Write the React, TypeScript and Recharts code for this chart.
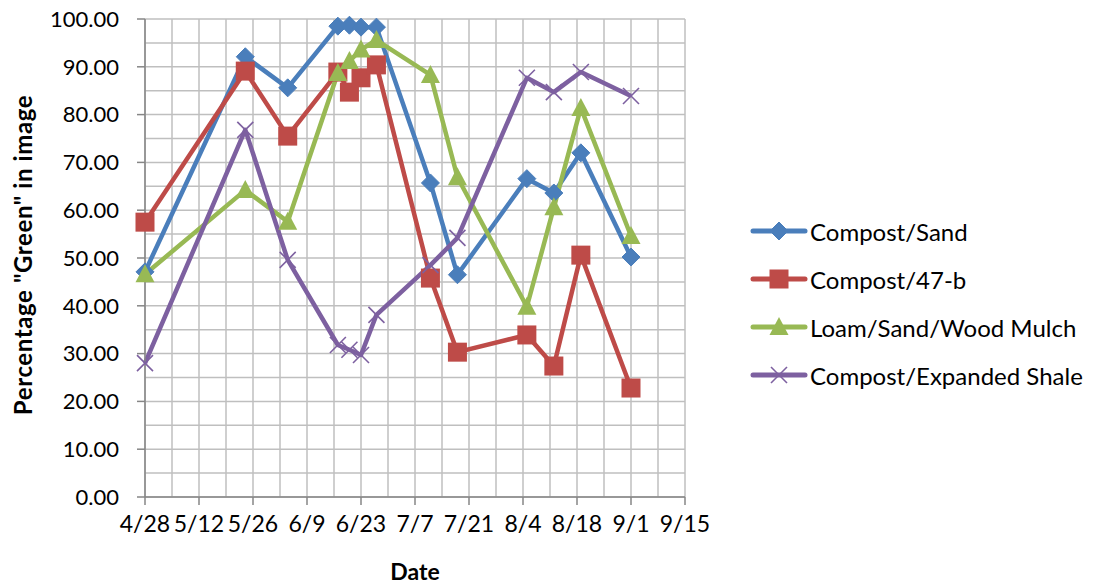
import { LineChart, Line, XAxis, YAxis, CartesianGrid } from "recharts";

// ─── Data ────────────────────────────────────────────────────────────────────
// x values are days counted from 4/28
const sampleDays = [0, 26, 37, 50, 53, 56, 60, 74, 81, 99, 106, 113, 126];

const compostSand = [47.1, 92.1, 85.6, 98.5, 98.7, 98.3, 98.3, 65.7, 46.5, 66.6, 63.6, 72.0, 50.2];
const compost47b = [57.5, 89.1, 75.5, 88.9, 84.7, 87.7, 90.4, 45.8, 30.3, 33.9, 27.4, 50.6, 22.8];
const loamSandMulch = [46.6, 64.2, 57.6, 88.7, 91.2, 93.6, 95.6, 88.3, 66.9, 39.8, 60.6, 81.4, 54.6];
const compostShale = [28.0, 76.8, 49.6, 31.8, 30.8, 29.7, 38.1, 48.5, 54.2, 87.7, 84.7, 88.9, 83.9];

const xTicks = [0, 14, 28, 42, 56, 70, 84, 98, 112, 126, 140];
const xTickLabels = ["4/28", "5/12", "5/26", "6/9", "6/23", "7/7", "7/21", "8/4", "8/18", "9/1", "9/15"];
const xMinor = [0, 7, 14, 21, 28, 35, 42, 49, 56, 63, 70, 77, 84, 91, 98, 105, 112, 119, 126, 133, 140];

const yTicks = [0, 10, 20, 30, 40, 50, 60, 70, 80, 90, 100];
const yMinor = [0, 5, 10, 15, 20, 25, 30, 35, 40, 45, 50, 55, 60, 65, 70, 75, 80, 85, 90, 95, 100];

const data = sampleDays.map((day, i) => ({
  day,
  compostSand: compostSand[i],
  compost47b: compost47b[i],
  loamSandMulch: loamSandMulch[i],
  compostShale: compostShale[i],
}));

const FONT = "Lato, 'Open Sans', sans-serif";

// ─── Markers ─────────────────────────────────────────────────────────────────
type DotProps = { cx?: number; cy?: number; index?: number };

const Diamond = ({ cx, cy, fill }: DotProps & { fill: string }) => {
  if (cx == null || cy == null) return null;
  const r = 9;
  return (
    <polygon
      points={`${cx},${cy - r} ${cx + r},${cy} ${cx},${cy + r} ${cx - r},${cy}`}
      fill={fill}
      stroke={fill}
      strokeWidth={1}
    />
  );
};

const Square = ({ cx, cy, fill }: DotProps & { fill: string }) => {
  if (cx == null || cy == null) return null;
  const h = 9.5;
  return <rect x={cx - h} y={cy - h} width={h * 2} height={h * 2} fill={fill} />;
};

const Triangle = ({ cx, cy, fill }: DotProps & { fill: string }) => {
  if (cx == null || cy == null) return null;
  const w = 9.5;
  return (
    <polygon
      points={`${cx},${cy - 10} ${cx + w},${cy + 8} ${cx - w},${cy + 8}`}
      fill={fill}
    />
  );
};

const Cross = ({ cx, cy, fill }: DotProps & { fill: string }) => {
  if (cx == null || cy == null) return null;
  const r = 8;
  return (
    <g stroke={fill} strokeWidth={1.6}>
      <line x1={cx - r} y1={cy - r} x2={cx + r} y2={cy + r} />
      <line x1={cx - r} y1={cy + r} x2={cx + r} y2={cy - r} />
    </g>
  );
};

const series = [
  { key: "compostSand", name: "Compost/Sand", color: "#4A7EBB", Marker: Diamond },
  { key: "compost47b", name: "Compost/47-b", color: "#BE4B48", Marker: Square },
  { key: "loamSandMulch", name: "Loam/Sand/Wood Mulch", color: "#98B954", Marker: Triangle },
  { key: "compostShale", name: "Compost/Expanded Shale", color: "#7D60A0", Marker: Cross },
];

// ─── Grid generators (minor grid every 7 days / 5 %) ────────────────────────
const vGen = (props: any) => {
  const s = props?.xAxis?.scale;
  const o = props.offset;
  return xMinor.map((d) => (typeof s === "function" ? s(d) : o.left + (d / 140) * o.width));
};
const hGen = (props: any) => {
  const s = props?.yAxis?.scale;
  const o = props.offset;
  return yMinor.map((v) => (typeof s === "function" ? s(v) : o.top + o.height - (v / 100) * o.height));
};

const YTitle = (props: any) => {
  const vb = props.viewBox || {};
  const x = 26;
  const y = vb.y + vb.height / 2 - 3;
  return (
    <text
      x={x}
      y={y}
      transform={`rotate(-90, ${x}, ${y})`}
      textAnchor="middle"
      dominantBaseline="middle"
      fontFamily={FONT}
      fontWeight="bold"
      fontSize={24}
      letterSpacing={0.6}
      fill="#000"
    >
      Percentage "Green" in image
    </text>
  );
};

export default function App() {
  return (
    <div
      style={{
        position: "absolute",
        left: 0,
        top: 0,
        width: 1097,
        height: 588,
        background: "#fff",
        fontFamily: FONT,
      }}
    >
      <LineChart
        width={1097}
        height={588}
        data={data}
        margin={{ top: 19, right: 412, left: 0, bottom: 0 }}
      >
        <CartesianGrid
          stroke="#BFBFBF"
          strokeWidth={1.5}
          verticalCoordinatesGenerator={vGen}
          horizontalCoordinatesGenerator={hGen}
        />
        <XAxis
          dataKey="day"
          type="number"
          domain={[0, 140]}
          ticks={xTicks}
          interval={0}
          tickFormatter={(v: number) => xTickLabels[xTicks.indexOf(v)] ?? ""}
          height={91}
          stroke="#868686"
          strokeWidth={1.5}
          tickSize={8}
          tickMargin={11}
          tick={{ fontSize: 23, fill: "#000", fontFamily: FONT }}
          label={{
            value: "Date",
            position: "insideBottom",
            offset: 8,
            fontSize: 23,
            fontWeight: "bold",
            fill: "#000",
            fontFamily: FONT,
          }}
        />
        <YAxis
          type="number"
          domain={[0, 100]}
          ticks={yTicks}
          interval={0}
          width={145}
          stroke="#868686"
          strokeWidth={1.5}
          tickSize={8}
          tickMargin={18}
          tickFormatter={(v: number) => v.toFixed(2)}
          tick={{ fontSize: 22, fill: "#000", fontFamily: FONT }}
          label={<YTitle />}
        />
        {series.map(({ key, name, color, Marker }) => (
          <Line
            key={key}
            type="linear"
            dataKey={key}
            name={name}
            stroke={color}
            strokeWidth={4.5}
            strokeLinejoin="round"
            dot={(p: any) => <Marker key={`${key}-${p.index}`} cx={p.cx} cy={p.cy} fill={color} />}
            activeDot={false}
            isAnimationActive={false}
          />
        ))}
      </LineChart>

      {/* Legend */}
      <div style={{ position: "absolute", left: 750, top: 207 }}>
        {series.map(({ key, name, color, Marker }) => (
          <div key={key} style={{ display: "flex", alignItems: "center", height: 48 }}>
            <svg width={58} height={30}>
              <line x1={3} y1={15} x2={55} y2={15} stroke={color} strokeWidth={5} strokeLinecap="round" />
              <Marker cx={29} cy={15} fill={color} />
            </svg>
            <span style={{ fontSize: 24, color: "#000", marginLeft: 2, whiteSpace: "nowrap" }}>{name}</span>
          </div>
        ))}
      </div>
    </div>
  );
}
